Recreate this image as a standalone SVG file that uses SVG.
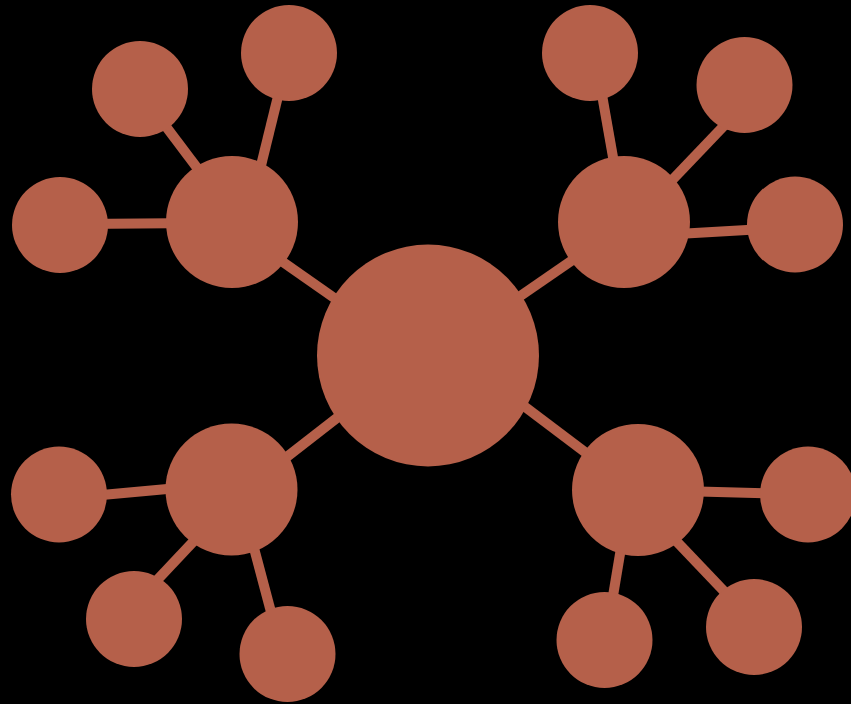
<svg xmlns="http://www.w3.org/2000/svg" width="851" height="704" viewBox="0 0 851 704">
<style>
.n{fill:#B5604A}
.e line{stroke:#B5604A;stroke-width:10}
</style>
<rect width="851" height="704" fill="#000"/>
<g id="connectors" class="e">
<line x1="260" y1="246" x2="360" y2="316"/>
<line x1="590" y1="248" x2="500" y2="310"/>
<line x1="270" y1="470" x2="360" y2="400"/>
<line x1="500" y1="388" x2="610" y2="471"/>
<line x1="155" y1="112" x2="210" y2="185"/>
<line x1="282" y1="80" x2="255" y2="190"/>
<line x1="80" y1="224" x2="200" y2="223"/>
<line x1="598" y1="72" x2="620" y2="197"/>
<line x1="740" y1="109" x2="655" y2="198"/>
<line x1="660" y1="235" x2="780" y2="228"/>
<line x1="80" y1="497" x2="200" y2="486"/>
<line x1="144" y1="594" x2="208" y2="526"/>
<line x1="250" y1="533" x2="275" y2="627"/>
<line x1="680" y1="491" x2="790" y2="494"/>
<line x1="624" y1="530" x2="609" y2="620"/>
<line x1="660" y1="524" x2="740" y2="608"/>
</g>
<g id="center"><circle class="n" cx="428" cy="355.5" r="111"/></g>
<g id="hub-ul"><circle class="n" cx="232" cy="222" r="66"/></g>
<g id="hub-ur"><circle class="n" cx="624" cy="222" r="66"/></g>
<g id="hub-ll"><circle class="n" cx="231.5" cy="489.5" r="66"/></g>
<g id="hub-lr"><circle class="n" cx="638" cy="490" r="66"/></g>
<g id="leaf-ul1"><circle class="n" cx="140" cy="89" r="48"/></g>
<g id="leaf-ul2"><circle class="n" cx="289" cy="53" r="48"/></g>
<g id="leaf-ul3"><circle class="n" cx="60" cy="225" r="48"/></g>
<g id="leaf-ur1"><circle class="n" cx="590" cy="53" r="48"/></g>
<g id="leaf-ur2"><circle class="n" cx="744.5" cy="85" r="48"/></g>
<g id="leaf-ur3"><circle class="n" cx="795" cy="224.5" r="48"/></g>
<g id="leaf-ll1"><circle class="n" cx="59" cy="494.5" r="48"/></g>
<g id="leaf-ll2"><circle class="n" cx="134" cy="619" r="48"/></g>
<g id="leaf-ll3"><circle class="n" cx="287.5" cy="654" r="48"/></g>
<g id="leaf-lr1"><circle class="n" cx="808" cy="494.5" r="48"/></g>
<g id="leaf-lr2"><circle class="n" cx="604.5" cy="640" r="48"/></g>
<g id="leaf-lr3"><circle class="n" cx="754" cy="627" r="48"/></g>
</svg>
